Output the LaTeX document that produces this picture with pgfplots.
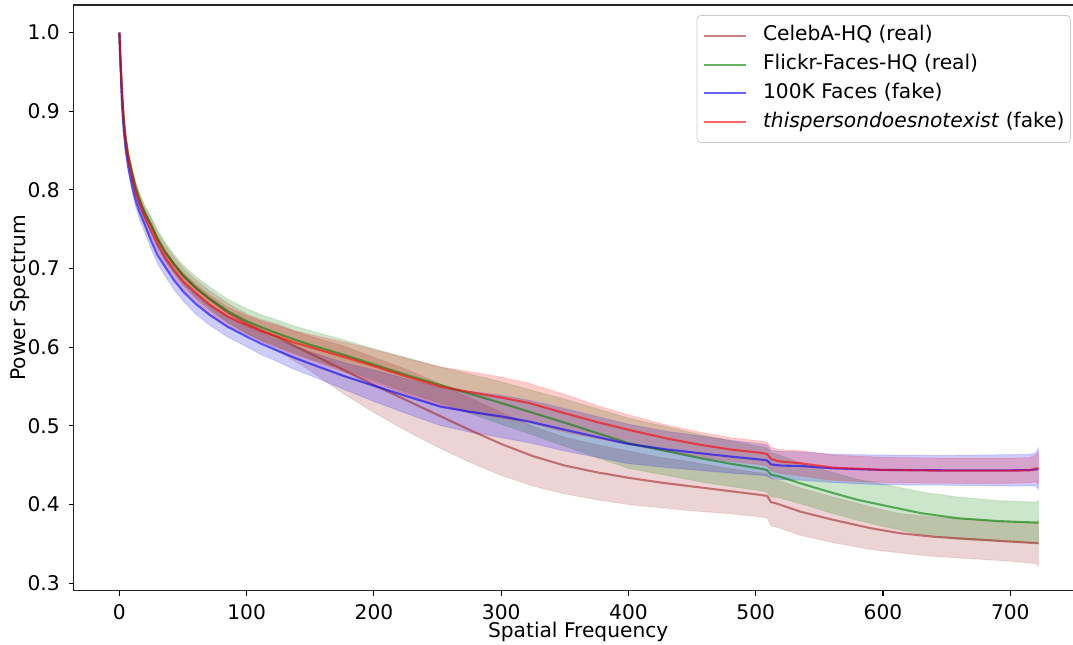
\documentclass[border=0pt]{standalone}
\usepackage{fontspec}
\setmainfont{DejaVu Sans}
\usepackage{pgfplots}
\pgfplotsset{compat=1.18}
\usepgfplotslibrary{fillbetween}
\usepackage{pgfplotstable}
\newcommand\ff{\fontsize{10.1}{12.1}\selectfont}
\definecolor{mbrown}{RGB}{165,42,42}
\definecolor{mgreen}{RGB}{0,128,0}
\definecolor{mblue}{RGB}{0,0,255}
\definecolor{mred}{RGB}{255,0,0}

\pgfplotstableread{
x m s
0 1.000 0.000
0.5 0.977 0.002
1 0.959 0.003
2 0.925 0.004
3.5 0.887 0.005
5 0.8636 0.006
7 0.8422 0.006
10 0.820 0.007
13 0.8007 0.007
16 0.7856 0.008
20 0.7699 0.008
25 0.7545 0.009
30 0.737 0.009
36 0.7201 0.010
43 0.7046 0.010
50 0.6906 0.010
60 0.675 0.011
71 0.6607 0.011
85 0.644 0.012
100 0.630 0.012
112 0.621 0.014
125 0.612 0.017
137 0.602 0.019
150 0.592 0.022
175 0.572 0.030
200 0.552 0.035
225 0.533 0.039
250 0.514 0.041
275 0.495 0.041
300 0.477 0.040
325 0.4615 0.038
350 0.4495 0.036
375 0.441 0.035
400 0.434 0.034
425 0.428 0.032
450 0.423 0.031
475 0.418 0.029
500 0.413 0.028
509 0.411 0.028
512 0.403 0.030
516 0.4015 0.030
535 0.391 0.030
561 0.3805 0.029
590 0.370 0.027
613 0.3636 0.025
640 0.359 0.025
670 0.356 0.025
700 0.353 0.025
720 0.351 0.026
722 0.351 0.029
}\celeba

\pgfplotstableread{
x m s
0 1.000 0.000
0.5 0.978 0.002
1 0.960 0.003
2 0.926 0.005
3.5 0.888 0.006
5 0.8646 0.007
7 0.8432 0.007
10 0.821 0.008
13 0.8017 0.008
16 0.7866 0.009
20 0.7709 0.009
25 0.7555 0.010
30 0.738 0.011
36 0.7211 0.012
43 0.7056 0.012
50 0.6916 0.013
60 0.676 0.014
71 0.6617 0.015
85 0.646 0.015
100 0.633 0.016
112 0.625 0.016
125 0.617 0.017
137 0.610 0.017
150 0.603 0.018
177 0.590 0.019
200 0.578 0.020
225 0.565 0.022
252 0.552 0.023
275 0.541 0.025
300 0.529 0.027
322 0.518 0.028
350 0.504 0.030
375 0.491 0.031
400 0.478 0.032
430 0.468 0.031
456 0.459 0.030
480 0.452 0.029
506 0.445 0.028
509 0.4435 0.028
512 0.438 0.028
519 0.4355 0.027
535 0.427 0.026
560 0.415 0.026
580 0.406 0.026
605 0.3974 0.027
630 0.389 0.027
658 0.3827 0.027
690 0.379 0.026
720 0.3771 0.026
722 0.377 0.028
}\ffhq

\pgfplotstableread{
x m s
0 1.000 0.000
0.5 0.975 0.002
1 0.955 0.003
2 0.909 0.005
3.5 0.874 0.006
5 0.851 0.007
7 0.829 0.007
10 0.805 0.008
13 0.785 0.008
16 0.771 0.009
20 0.7555 0.010
25 0.735 0.010
30 0.717 0.011
36 0.702 0.012
43 0.685 0.012
50 0.671 0.012
60 0.655 0.013
71 0.641 0.013
85 0.626 0.013
100 0.6135 0.013
112 0.604 0.014
125 0.595 0.014
137 0.587 0.015
150 0.579 0.015
177 0.563 0.017
200 0.551 0.020
225 0.538 0.022
252 0.5245 0.024
275 0.518 0.026
300 0.512 0.027
322 0.5055 0.027
350 0.495 0.027
375 0.486 0.026
400 0.477 0.025
430 0.470 0.023
456 0.4653 0.022
480 0.461 0.021
506 0.4568 0.020
509 0.456 0.020
512 0.451 0.018
520 0.4495 0.018
535 0.449 0.018
560 0.446 0.018
600 0.444 0.019
650 0.4435 0.019
700 0.4435 0.020
715 0.4438 0.020
720 0.4445 0.021
722 0.4455 0.026
}\hundredk

\pgfplotstableread{
x m s
0 1.000 0.000
0.5 0.977 0.002
1 0.958 0.003
2 0.921 0.004
3.5 0.883 0.005
5 0.859 0.006
7 0.838 0.006
10 0.815 0.007
13 0.795 0.007
16 0.781 0.008
20 0.765 0.008
25 0.748 0.009
30 0.731 0.009
36 0.714 0.010
43 0.698 0.010
50 0.684 0.011
60 0.669 0.011
71 0.654 0.012
85 0.639 0.012
100 0.628 0.012
112 0.620 0.013
125 0.613 0.014
137 0.606 0.015
150 0.600 0.016
177 0.5873 0.019
200 0.576 0.021
225 0.563 0.023
252 0.550 0.025
275 0.543 0.026
300 0.536 0.026
322 0.529 0.025
350 0.516 0.024
375 0.505 0.021
400 0.495 0.019
430 0.484 0.017
456 0.476 0.016
480 0.470 0.015
505 0.4655 0.015
509 0.464 0.015
512 0.458 0.015
518 0.455 0.015
535 0.4525 0.016
560 0.447 0.016
600 0.444 0.016
650 0.443 0.016
700 0.443 0.016
715 0.4435 0.016
720 0.446 0.017
722 0.446 0.020
}\tpdne

\begin{document}
\begin{tikzpicture}
\begin{axis}[
  at={(36.75pt,26.7pt)}, anchor=south west,
  scale only axis, width=504.7pt, height=292.8pt,
  xmin=-36.05, xmax=757.05, ymin=0.2906, ymax=1.035,
  xtick={0,100,200,300,400,500,600,700},
  ytick={0.3,0.4,0.5,0.6,0.7,0.8,0.9,1.0},
  scaled ticks=false,
  tick pos=left, tick align=outside,
  major tick length=2.45pt,
  every tick/.style={black, line width=0.55pt},
  axis line style={line width=0.55pt, black!85},
  /pgf/number format/assume math mode=true,
  ticklabel style={font=\ff},
  yticklabel style={/pgf/number format/fixed, /pgf/number format/precision=1, /pgf/number format/fixed zerofill, inner sep=0pt, anchor=east, xshift=-4.25pt},
  xticklabel style={inner sep=0pt, anchor=north, yshift=-4.2pt},
  every axis x label/.style={at={(rel axis cs:0.5,0)}, anchor=north, inner sep=0pt, yshift=-15.6pt, font=\ff},
  every axis y label/.style={at={([xshift=-21.5pt]rel axis cs:0,0.5)}, rotate=90, anchor=south, inner sep=0pt, font=\ff},
  xlabel={Spatial Frequency},
  ylabel={Power Spectrum},
  legend style={at={(rel axis cs:1,1)}, anchor=north east, xshift=-6pt, yshift=-5pt,
    draw=black!20, rounded corners=2pt, fill=white, fill opacity=0.8, text opacity=1,
    inner xsep=3pt, inner ysep=5.2pt, font=\ff,
    nodes={inner sep=0pt, text height=0.76em, text depth=0.24em},
    row sep=4.4pt, cells={anchor=west}},
  legend image code/.code={\draw[#1] (0pt,0pt) -- (21pt,0pt); \path (29pt,0pt);},
]
% CelebA-HQ
\addplot[mbrown, line width=1.04pt, opacity=0.6] table[x=x,y=m]{\celeba};
\addlegendentry{CelebA-HQ (real)}
\addplot[draw=none, name path=cu, forget plot] table[x=x, y expr=\thisrow{m}+\thisrow{s}]{\celeba};
\addplot[draw=none, name path=cl, forget plot] table[x=x, y expr=\thisrow{m}-\thisrow{s}]{\celeba};
\addplot[fill=mbrown, fill opacity=0.2, draw=mbrown, draw opacity=0.12, line width=0.5pt, forget plot] fill between[of=cu and cl];
% FFHQ
\addplot[mgreen, line width=1.04pt, opacity=0.6] table[x=x,y=m]{\ffhq};
\addlegendentry{Flickr-Faces-HQ (real)}
\addplot[draw=none, name path=gu, forget plot] table[x=x, y expr=\thisrow{m}+\thisrow{s}]{\ffhq};
\addplot[draw=none, name path=gl, forget plot] table[x=x, y expr=\thisrow{m}-\thisrow{s}]{\ffhq};
\addplot[fill=mgreen, fill opacity=0.2, draw=mgreen, draw opacity=0.12, line width=0.5pt, forget plot] fill between[of=gu and gl];
% 100K Faces
\addplot[mblue, line width=1.04pt, opacity=0.6] table[x=x,y=m]{\hundredk};
\addlegendentry{100K Faces (fake)}
\addplot[draw=none, name path=bu, forget plot] table[x=x, y expr=\thisrow{m}+\thisrow{s}]{\hundredk};
\addplot[draw=none, name path=bl, forget plot] table[x=x, y expr=\thisrow{m}-\thisrow{s}]{\hundredk};
\addplot[fill=mblue, fill opacity=0.2, draw=mblue, draw opacity=0.12, line width=0.5pt, forget plot] fill between[of=bu and bl];
% thispersondoesnotexist
\addplot[mred, line width=1.04pt, opacity=0.6] table[x=x,y=m]{\tpdne};
\addlegendentry{\textit{thispersondoesnotexist} (fake)}
\addplot[draw=none, name path=ru, forget plot] table[x=x, y expr=\thisrow{m}+\thisrow{s}]{\tpdne};
\addplot[draw=none, name path=rl, forget plot] table[x=x, y expr=\thisrow{m}-\thisrow{s}]{\tpdne};
\addplot[fill=mred, fill opacity=0.2, draw=mred, draw opacity=0.12, line width=0.5pt, forget plot] fill between[of=ru and rl];
\end{axis}
\pgfresetboundingbox
\path[use as bounding box] (0,0) rectangle (536.5pt,322pt);
\end{tikzpicture}
\end{document}
